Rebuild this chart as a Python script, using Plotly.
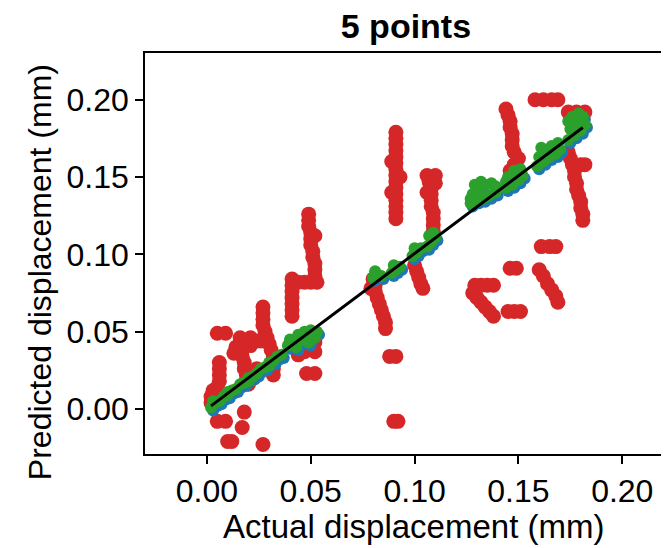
import plotly.graph_objects as go

# red: single-point predictions (large scatter)
red_x = [0.005, 0.009, 0.005, 0.009, 0.010, 0.012, 0.018, 0.017, 0.027,
         0.002, 0.002, 0.003,
         0.006, 0.006, 0.006, 0.006, 0.005, 0.005,
         0.016, 0.016, 0.017, 0.017, 0.018, 0.018, 0.019, 0.019, 0.014, 0.013, 0.021, 0.021, 0.018, 0.020,
         0.027, 0.027, 0.027, 0.027, 0.028, 0.029, 0.030, 0.031, 0.032, 0.032, 0.032, 0.032, 0.026, 0.024, 0.024,
         0.041, 0.041, 0.041, 0.041, 0.041, 0.041, 0.041, 0.044, 0.047, 0.050, 0.053,
         0.052, 0.052, 0.052, 0.051, 0.051, 0.050, 0.050, 0.050, 0.049, 0.049, 0.049, 0.052,
         0.043, 0.044, 0.047, 0.052, 0.052, 0.048, 0.052,
         0.080, 0.081, 0.081, 0.082, 0.083, 0.084, 0.085, 0.086, 0.086, 0.079,
         0.088, 0.091, 0.090, 0.092,
         0.091, 0.091, 0.091, 0.091, 0.091, 0.091, 0.091, 0.091, 0.091, 0.091, 0.091, 0.091, 0.091, 0.091, 0.091,
         0.089, 0.089, 0.093,
         0.100, 0.101, 0.102, 0.103, 0.104,
         0.106, 0.110, 0.107, 0.108, 0.108, 0.108, 0.108, 0.109, 0.109, 0.109, 0.109, 0.109, 0.110, 0.106,
         0.144, 0.145, 0.146, 0.146, 0.147, 0.147, 0.147, 0.148, 0.150, 0.148, 0.146, 0.146, 0.146,
         0.158, 0.162, 0.166, 0.169, 0.174, 0.178, 0.182,
         0.174, 0.175, 0.176, 0.177, 0.177, 0.178, 0.178, 0.179, 0.180, 0.180, 0.181, 0.181, 0.180, 0.182,
         0.161, 0.165, 0.168, 0.146, 0.149,
         0.129, 0.132, 0.135, 0.138,
         0.128, 0.130, 0.132, 0.134, 0.136, 0.138,
         0.145, 0.148, 0.151,
         0.160, 0.162, 0.164, 0.166, 0.168, 0.169]
red_y = [0.049, 0.049, -0.008, -0.008, -0.021, -0.021, -0.002, -0.012, -0.023,
         0.004, 0.008, 0.012,
         0.030, 0.026, 0.022, 0.018, 0.014, 0.010,
         0.046, 0.042, 0.038, 0.034, 0.030, 0.026, 0.022, 0.018, 0.040, 0.036, 0.041, 0.046, 0.016, 0.016,
         0.066, 0.062, 0.058, 0.054, 0.050, 0.046, 0.042, 0.038, 0.034, 0.030, 0.026, 0.022, 0.044, 0.044, 0.026,
         0.060, 0.064, 0.068, 0.072, 0.076, 0.080, 0.084, 0.082, 0.082, 0.082, 0.082,
         0.086, 0.090, 0.094, 0.098, 0.102, 0.106, 0.110, 0.114, 0.118, 0.122, 0.126, 0.112,
         0.041, 0.035, 0.037, 0.043, 0.037, 0.023, 0.023,
         0.084, 0.080, 0.076, 0.072, 0.068, 0.064, 0.060, 0.056, 0.052, 0.078,
         0.034, 0.034, -0.008, -0.008,
         0.179, 0.175, 0.171, 0.167, 0.163, 0.159, 0.155, 0.151, 0.147, 0.143, 0.139, 0.135, 0.131, 0.127, 0.123,
         0.160, 0.140, 0.150,
         0.093, 0.089, 0.085, 0.081, 0.078,
         0.151, 0.151, 0.147, 0.143, 0.139, 0.135, 0.131, 0.127, 0.123, 0.119, 0.115, 0.111, 0.146, 0.140,
         0.194, 0.190, 0.186, 0.182, 0.178, 0.174, 0.170, 0.166, 0.162, 0.158, 0.154, 0.150, 0.146,
         0.200, 0.200, 0.200, 0.200, 0.192, 0.192, 0.192,
         0.166, 0.162, 0.158, 0.154, 0.150, 0.146, 0.142, 0.138, 0.134, 0.130, 0.126, 0.122, 0.158, 0.158,
         0.105, 0.105, 0.105, 0.091, 0.091,
         0.080, 0.080, 0.080, 0.080,
         0.075, 0.072, 0.069, 0.066, 0.063, 0.060,
         0.063, 0.063, 0.063,
         0.090, 0.086, 0.081, 0.077, 0.073, 0.069]

# blue: second model, sits just under the green one
blue_x = [0.003, 0.005, 0.007, 0.009, 0.011, 0.013, 0.015, 0.017, 0.019, 0.021, 0.023, 0.025, 0.027, 0.029, 0.031, 0.033, 0.035, 0.037,
          0.040, 0.043, 0.046, 0.049, 0.052, 0.054, 0.044, 0.050,
          0.081, 0.083, 0.085, 0.090, 0.092, 0.094,
          0.100, 0.102, 0.104, 0.107, 0.109, 0.111,
          0.128, 0.131, 0.134, 0.137, 0.140, 0.133, 0.139,
          0.145, 0.148, 0.151, 0.153, 0.150,
          0.160, 0.163, 0.166, 0.169, 0.171, 0.167,
          0.175, 0.178, 0.181, 0.183, 0.182]
blue_y = [-0.001, 0.002, 0.003, 0.006, 0.007, 0.010, 0.011, 0.014, 0.015, 0.018, 0.019, 0.021, 0.024, 0.025, 0.028, 0.029, 0.032, 0.033,
          0.039, 0.041, 0.042, 0.044, 0.046, 0.048, 0.038, 0.041,
          0.083, 0.085, 0.084, 0.086, 0.088, 0.090,
          0.097, 0.099, 0.102, 0.103, 0.106, 0.109,
          0.131, 0.133, 0.134, 0.136, 0.138, 0.141, 0.142,
          0.141, 0.143, 0.146, 0.149, 0.152,
          0.155, 0.158, 0.161, 0.163, 0.166, 0.168,
          0.172, 0.175, 0.178, 0.182, 0.187]

# green: third model, closest to the diagonal
green_x = [0.002, 0.004, 0.006, 0.008, 0.010, 0.012, 0.014, 0.016, 0.018, 0.020, 0.022, 0.024, 0.026, 0.028, 0.030, 0.032, 0.034, 0.036,
           0.003, 0.010, 0.020, 0.030,
           0.039, 0.042, 0.045, 0.048, 0.051, 0.053, 0.040, 0.044, 0.047, 0.050, 0.043, 0.049, 0.052,
           0.080, 0.082, 0.084, 0.081,
           0.089, 0.091, 0.093, 0.090,
           0.099, 0.101, 0.103, 0.100,
           0.106, 0.108, 0.110, 0.107, 0.109,
           0.127, 0.130, 0.133, 0.136, 0.139, 0.128, 0.131, 0.134, 0.137, 0.139, 0.129, 0.132, 0.127,
           0.144, 0.147, 0.150, 0.152, 0.145, 0.148, 0.151, 0.144,
           0.159, 0.162, 0.165, 0.168, 0.170, 0.160, 0.163, 0.166, 0.169, 0.161,
           0.174, 0.177, 0.180, 0.182, 0.175, 0.178, 0.181, 0.176, 0.179, 0.174]
green_y = [0.001, 0.004, 0.005, 0.008, 0.009, 0.012, 0.013, 0.016, 0.017, 0.020, 0.021, 0.023, 0.026, 0.027, 0.030, 0.031, 0.034, 0.035,
           0.005, 0.011, 0.018, 0.028,
           0.041, 0.043, 0.044, 0.046, 0.048, 0.050, 0.045, 0.048, 0.050, 0.051, 0.040, 0.043, 0.046,
           0.085, 0.087, 0.086, 0.089,
           0.088, 0.090, 0.092, 0.093,
           0.099, 0.101, 0.104, 0.104,
           0.105, 0.108, 0.111, 0.112, 0.114,
           0.133, 0.135, 0.136, 0.138, 0.140, 0.139, 0.142, 0.145, 0.146, 0.144, 0.145, 0.147, 0.136,
           0.143, 0.145, 0.148, 0.151, 0.150, 0.154, 0.155, 0.147,
           0.157, 0.160, 0.163, 0.165, 0.168, 0.163, 0.167, 0.170, 0.172, 0.169,
           0.174, 0.177, 0.180, 0.184, 0.181, 0.185, 0.189, 0.189, 0.191, 0.186]

# ideal line
ideal_x = [0.002, 0.181]
ideal_y = [0.002, 0.182]

font = "Liberation Sans, Arial, Helvetica, sans-serif"

fig = go.Figure()
fig.add_trace(go.Scatter(x=red_x, y=red_y, mode="markers",
                         marker=dict(color="#d62728", size=15, line=dict(width=0))))
fig.add_trace(go.Scatter(x=blue_x, y=blue_y, mode="markers",
                         marker=dict(color="#1f77b4", size=12, line=dict(width=0))))
fig.add_trace(go.Scatter(x=green_x, y=green_y, mode="markers",
                         marker=dict(color="#2ca02c", size=12, line=dict(width=0))))
fig.add_trace(go.Scatter(x=ideal_x, y=ideal_y, mode="lines",
                         line=dict(color="black", width=3)))

axis_common = dict(showgrid=False, zeroline=False, showline=True, linecolor="black", linewidth=1.5,
                   ticks="outside", ticklen=8, tickwidth=1.5, tickcolor="black",
                   tickfont=dict(family=font, size=32, color="black"))

fig.update_xaxes(range=[-0.0298, 0.2225], tickvals=[0, 0.05, 0.1, 0.15, 0.2], tickformat=".2f",
                 mirror=True, **axis_common)
fig.update_yaxes(range=[-0.0291, 0.2302], tickvals=[0, 0.05, 0.1, 0.15, 0.2], tickformat=".2f",
                 mirror=False, **axis_common)

# page body adds 8px, so the figure is 8px smaller and margins shifted
fig.update_layout(
    width=661, height=540,
    margin=dict(l=137, r=0, t=45, b=94),
    plot_bgcolor="white", paper_bgcolor="white",
    showlegend=False,
    title=dict(text="<b>5 points</b>", xref="paper", x=0.498, xanchor="center",
               yref="container", y=0.966, yanchor="middle",
               font=dict(family=font, size=34, color="black")),
    annotations=[
        dict(text="Actual displacement (mm)", xref="paper", yref="paper", x=0.513, y=-0.182,
             xanchor="center", yanchor="middle",
             showarrow=False, font=dict(family=font, size=33, color="black")),
        dict(text="Predicted displacement (mm)", xref="paper", yref="paper", x=-0.200, y=0.454,
             xanchor="center", yanchor="middle",
             textangle=-90, showarrow=False, font=dict(family=font, size=32, color="black")),
    ],
)

fig.write_html("out.html")
